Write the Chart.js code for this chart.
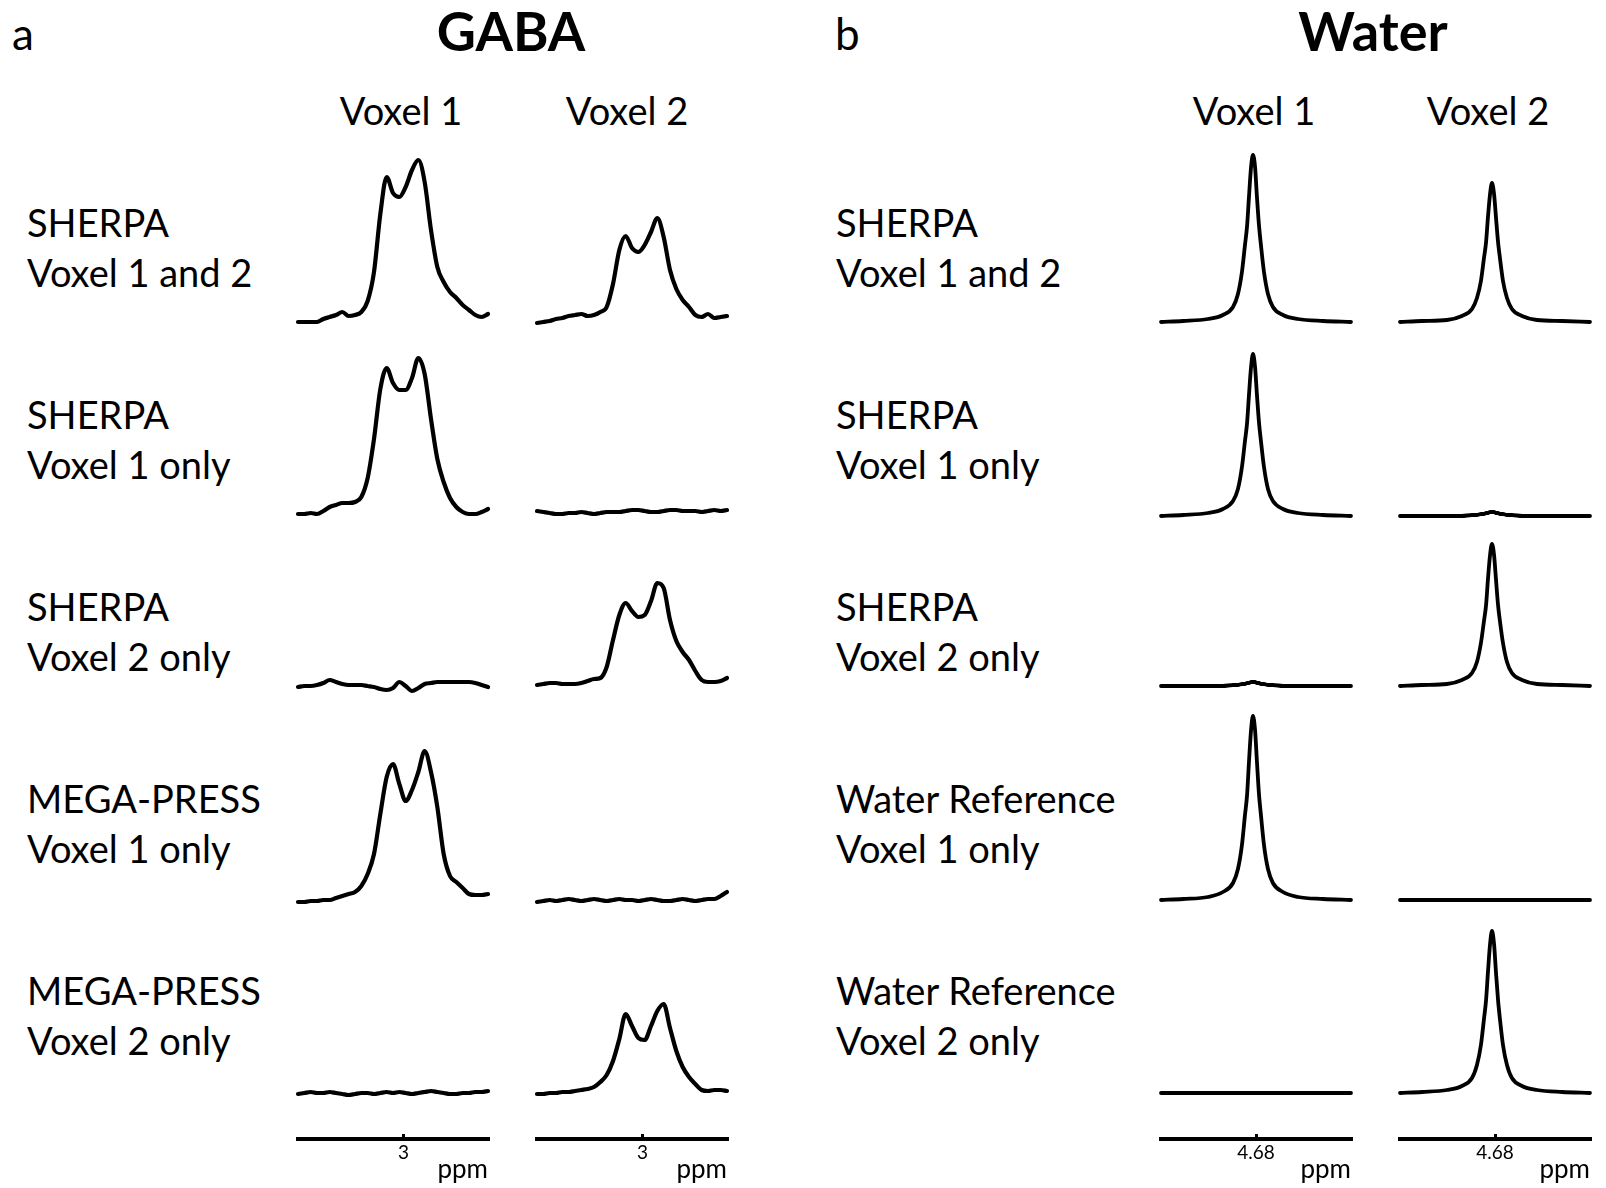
<!DOCTYPE html>
<html><head><meta charset="utf-8">
<script src="https://cdn.jsdelivr.net/npm/chart.js@4.4.1/dist/chart.umd.min.js"></script>
<style>
html,body{margin:0;padding:0;background:#fff;}
#fig{position:relative;width:1606px;height:1188px;overflow:hidden;background:#fff;font-family:Lato,sans-serif;color:#000;}
.t{position:absolute;white-space:nowrap;line-height:1;}
canvas{position:absolute;}
</style></head><body><div id="fig"></div>
<script>
// ---------------- DATA ----------------
const panelTitles = ["GABA", "Water"];
const panelLetters = ["a", "b"];
const colLabels = ["Voxel 1", "Voxel 2"];
const gabaRowLabels = [["SHERPA","Voxel 1 and 2"],["SHERPA","Voxel 1 only"],["SHERPA","Voxel 2 only"],["MEGA-PRESS","Voxel 1 only"],["MEGA-PRESS","Voxel 2 only"]];
const waterRowLabels = [["SHERPA","Voxel 1 and 2"],["SHERPA","Voxel 1 only"],["SHERPA","Voxel 2 only"],["Water Reference","Voxel 1 only"],["Water Reference","Voxel 2 only"]];
const gabaTick = 3;
const waterTick = 4.68;
const axisUnit = "ppm";

// chemical shift axis (ppm), left to right
const gabaPpm = [3.50,3.47,3.44,3.41,3.38,3.35,3.32,3.29,3.26,3.23,3.20,3.17,3.14,3.11,3.08,3.05,3.02,2.99,2.96,2.93,2.90,2.87,2.84,2.81,2.78,2.75,2.72,2.69,2.66,2.63,2.60];
const waterPpmV1 = [5.180,5.064,4.933,4.854,4.801,4.775,4.754,4.738,4.727,4.717,4.706,4.696,4.685,4.675,4.664,4.654,4.638,4.617,4.591,4.538,4.459,4.327,4.180];
const waterPpmV2 = [5.180,5.064,4.933,4.854,4.801,4.775,4.754,4.738,4.727,4.717,4.706,4.696,4.685,4.675,4.664,4.654,4.638,4.617,4.591,4.538,4.459,4.327,4.180];

// GABA spectra (a.u.), rows x voxel
const gabaSherpa12V1 = [0,0,0,0,3,5,7,10,6,7,10,21,50,108,145,129,125,135,152,162,140,92,55,40,30,24,17,12,7,5,8];
const gabaSherpa12V2 = [-1,0,1,3,4,6,7,8,6,7,10,15,38,72,86,74,70,77,90,104,85,52,33,22,15,7,5,8,4,5,6];
const gabaSherpa1V1 = [0,0,1,0,3,7,9,11,11,12,17,36,75,125,146,131,124,124,136,156,140,95,55,32,16,7,2,0,0,2,5];
const gabaSherpa1V2 = [3,2,1,0,0,1,1,2,1,0,1,2,2,2,3,4,4,3,2,2,3,4,4,3,3,3,2,3,4,3,4];
const gabaSherpa2V1 = [-2,-1,-1,0,2,5,3,1,0,0,0,-1,-2,-4,-5,-3,3,-1,-6,-3,1,2,3,3,3,3,3,3,2,0,-2];
const gabaSherpa2V2 = [0,1,2,2,1,1,1,2,4,6,7,18,45,70,82,74,68,70,84,102,97,65,44,33,25,14,5,3,3,4,7];
const gabaMega1V1 = [0,0,1,1,2,2,4,6,8,10,16,28,48,88,125,138,118,101,112,130,151,130,95,48,26,20,14,8,7,7,8];
const gabaMega1V2 = [0,1,2,1,2,3,2,1,2,3,2,1,2,3,2,2,1,2,3,2,1,1,2,3,2,1,2,3,3,6,10];
const gabaMega2V1 = [0,1,2,1,1,2,1,0,-1,0,1,1,0,1,2,1,2,1,0,1,2,3,2,1,0,0,1,1,2,2,3];
const gabaMega2V2 = [0,0,1,1,2,2,3,4,5,7,12,19,33,55,80,68,56,54,68,83,90,66,43,27,17,10,4,3,4,4,3];

// Water spectra (a.u.)
const waterSherpa12V1 = [0,1,3,7,15,28,50,77,96,125,155,167,155,125,96,77,50,28,15,7,3,1,0];
const waterSherpa12V2 = [0,1,2,6,13,24,41,64,80,105,128,139,128,105,80,64,41,24,13,6,2,1,0];
const waterSherpa1V1 = [0,1,3,7,15,27,49,75,93,121,149,162,149,121,93,75,49,27,15,7,3,1,0];
const waterSherpa1V2 = [0,0,0,0,1,1,2,2,3,3,4,4,4,3,3,2,2,1,1,0,0,0,0];
const waterSherpa2V1 = [0,0,0,0,1,1,2,2,3,3,4,4,4,3,3,2,2,1,1,0,0,0,0];
const waterSherpa2V2 = [0,1,2,6,13,24,43,65,81,107,131,142,131,107,81,65,43,24,13,6,2,1,0];
const waterRef1V1 = [0,1,3,8,17,31,55,85,105,138,170,184,170,138,105,85,55,31,17,8,3,1,0];
const waterRef1V2 = [0,0,0,0,0,0,0,0,0,0,0,0,0,0,0,0,0,0,0,0,0,0,0];
const waterRef2V1 = [0,0,0,0,0,0,0,0,0,0,0,0,0,0,0,0,0,0,0,0,0,0,0];
const waterRef2V2 = [0,1,3,7,15,28,48,74,93,121,149,162,149,121,93,74,48,28,15,7,3,1,0];

// ---------------- LAYOUT ----------------
const fig = document.getElementById('fig');
const PANEL_W = 190, PAD = 6, SCALE_H = 48, AXIS_Y = 1139;
const GABA_X = [298, 537], WATER_X = [1161, 1400];
const GABA_BASE = [322, 514, 685, 902, 1094];
const WATER_BASE = [322, 516, 686, 900, 1093];

function text(str, x, baseline, size, weight, align) {
  const d = document.createElement('div');
  d.className = 't';
  d.textContent = str;
  d.style.fontSize = size + 'px';
  d.style.fontWeight = weight;
  d.style.left = x + 'px';
  d.style.top = (baseline - 0.887 * size) + 'px';
  if (align === 'center') d.style.transform = 'translateX(-50%)';
  if (align === 'right') d.style.transform = 'translateX(-100%)';
  fig.appendChild(d);
}

function panel(x0, base, ppm, vals, xmin, xmax, bottom, tickVal, lw) {
  const c = document.createElement('canvas');
  const top = base - 200 - PAD;
  const areaH = bottom ? (AXIS_Y - (base - 200)) : 230;
  const h = bottom ? (PAD + areaH + SCALE_H) : (areaH + 2 * PAD);
  const w = PANEL_W + 2 * PAD;
  c.width = w; c.height = h;
  c.style.left = (x0 - PAD) + 'px'; c.style.top = top + 'px';
  c.style.width = w + 'px'; c.style.height = h + 'px';
  fig.appendChild(c);
  const xScale = {
    type: 'linear', reverse: true, min: xmin, max: xmax,
    display: bottom
  };
  if (bottom) {
    Object.assign(xScale, {
      grid: { display: true, drawOnChartArea: false, drawTicks: true, tickLength: -5, color: '#000', lineWidth: 3 },
      border: { display: true, color: '#000', width: 4 },
      ticks: { color: '#000', font: { family: 'Lato', size: 19 }, padding: 7, maxRotation: 0, autoSkip: false,
               callback: v => String(v) },
      afterBuildTicks: s => { s.ticks = [{ value: tickVal }]; },
      afterFit: s => { s.height = SCALE_H; }
    });
  }
  new Chart(c, {
    type: 'line',
    data: { datasets: [{
      data: ppm.map((p, i) => ({ x: p, y: vals[i] })),
      borderColor: '#000', borderWidth: lw, pointRadius: 0, fill: false,
      cubicInterpolationMode: 'monotone', clip: false,
      borderCapStyle: 'round', borderJoinStyle: 'round'
    }]},
    options: {
      responsive: false, animation: false, devicePixelRatio: 1,
      layout: { padding: { left: PAD, right: PAD, top: PAD, bottom: bottom ? 0 : PAD } },
      plugins: { legend: { display: false }, tooltip: { enabled: false } },
      events: [],
      scales: {
        x: xScale,
        y: { display: false, min: bottom ? -(AXIS_Y - base) : -30, max: 200 }
      }
    }
  });
}

// titles
text(panelLetters[0], 12, 50, 44, 400, 'left');
text(panelLetters[1], 835, 50, 44, 400, 'left');
text(panelTitles[0], 511, 52, 54, 700, 'center');
text(panelTitles[1], 1373, 52, 54, 700, 'center');
const colCenters = [[401, 627], [1254, 1488]];
for (let g = 0; g < 2; g++) for (let k = 0; k < 2; k++) text(colLabels[k], colCenters[g][k], 125, 38, 400, 'center');

for (let r = 0; r < 5; r++) {
  const b1 = 237 + 192 * r;
  text(gabaRowLabels[r][0], 27, b1, 38, 400, 'left');
  text(gabaRowLabels[r][1], 27, b1 + 50, 38, 400, 'left');
  text(waterRowLabels[r][0], 836, b1, 38, 400, 'left');
  text(waterRowLabels[r][1], 836, b1 + 50, 38, 400, 'left');
}

const gabaSeries = [[gabaSherpa12V1, gabaSherpa12V2],[gabaSherpa1V1, gabaSherpa1V2],[gabaSherpa2V1, gabaSherpa2V2],[gabaMega1V1, gabaMega1V2],[gabaMega2V1, gabaMega2V2]];
const waterSeries = [[waterSherpa12V1, waterSherpa12V2],[waterSherpa1V1, waterSherpa1V2],[waterSherpa2V1, waterSherpa2V2],[waterRef1V1, waterRef1V2],[waterRef2V1, waterRef2V2]];

for (let r = 0; r < 5; r++) {
  for (let k = 0; k < 2; k++) {
    panel(GABA_X[k], GABA_BASE[r], gabaPpm, gabaSeries[r][k], 2.6, 3.5, r === 4, gabaTick, 4.2);
    panel(WATER_X[k], WATER_BASE[r], k === 0 ? waterPpmV1 : waterPpmV2, waterSeries[r][k], 4.18, 5.18, r === 4, waterTick, 3.8);
  }
}
// unit labels
for (const x of [GABA_X[0], GABA_X[1], WATER_X[0], WATER_X[1]]) text(axisUnit, x + PANEL_W, 1178, 26, 400, 'right');
</script></body></html>
